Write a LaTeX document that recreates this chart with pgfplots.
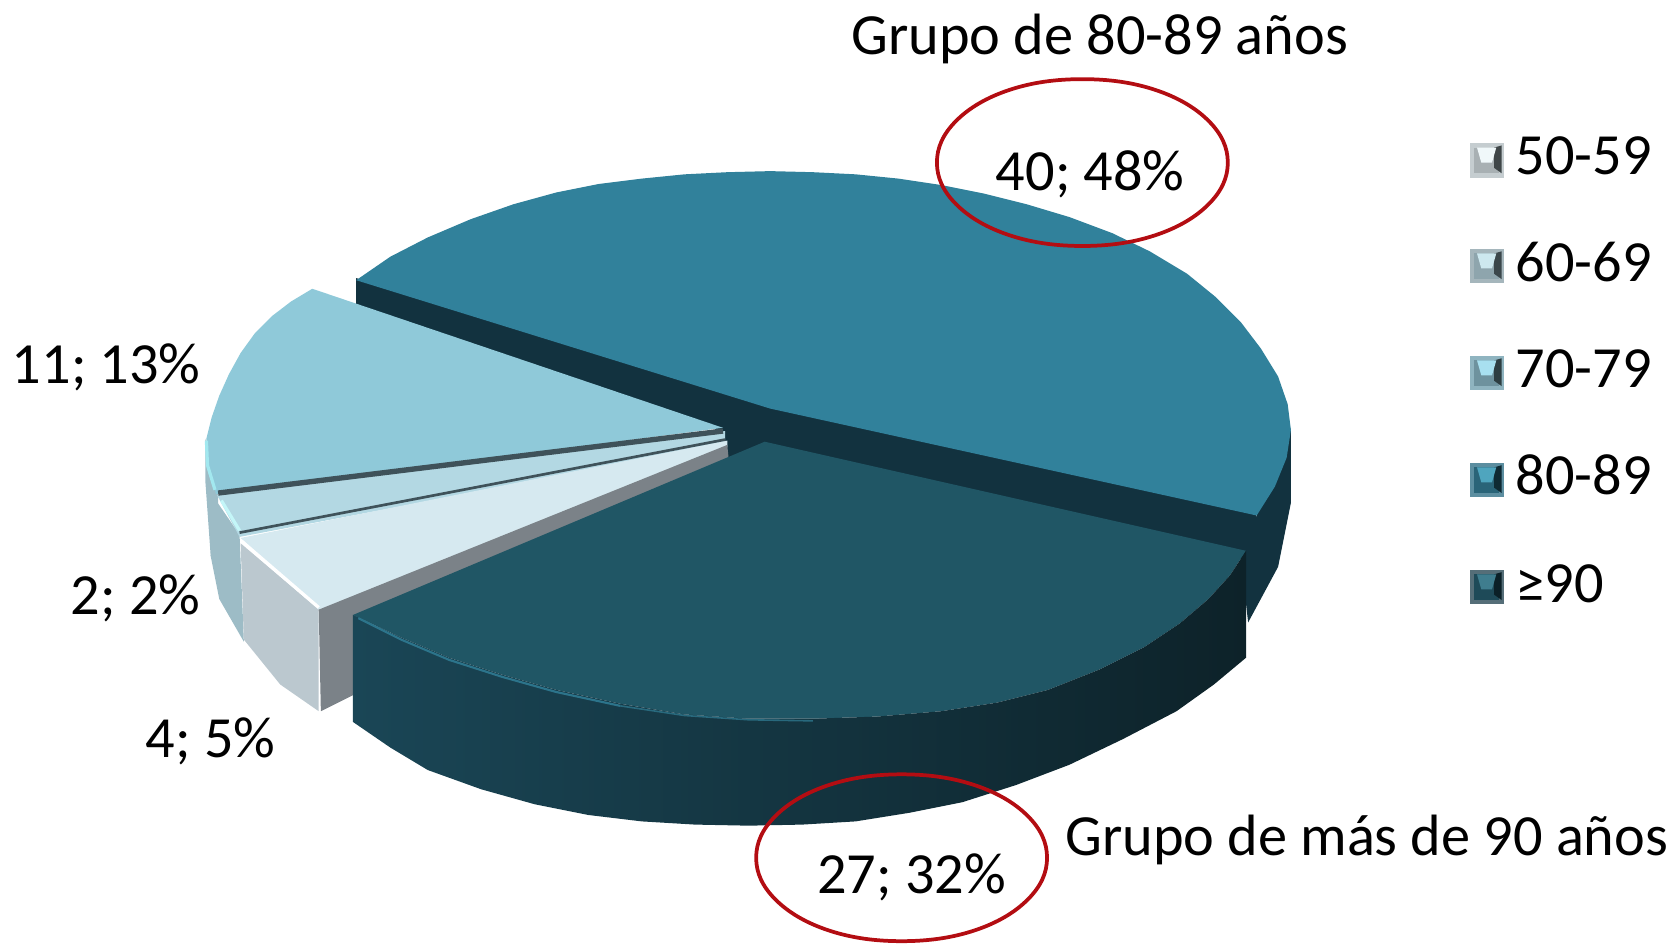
\documentclass[border=0pt]{standalone}
\usepackage{fontspec}
\setmainfont{Carlito}
\usepackage{pgfplots}
\pgfplotsset{compat=1.18}
\definecolor{cA}{HTML}{31819B}
\definecolor{cAd}{HTML}{12323F}
\definecolor{cB}{HTML}{205665}
\definecolor{cBl}{HTML}{1A4656}
\definecolor{cBr}{HTML}{0D2229}
\definecolor{cC}{HTML}{8FC9D9}
\definecolor{cD}{HTML}{B3D8E3}
\definecolor{cE}{HTML}{D6E9F0}
\definecolor{cG}{HTML}{7B8288}
\definecolor{cF}{HTML}{BBC8CF}
\definecolor{cS}{HTML}{9DBCC6}
\definecolor{cL}{HTML}{3F525A}
\definecolor{cR}{HTML}{B30D12}
\definecolor{s1a}{HTML}{C5CDD0}\definecolor{s1b}{HTML}{A8B0B3}\definecolor{s1c}{HTML}{3F4648}\definecolor{s1d}{HTML}{F0F8FA}
\definecolor{s2a}{HTML}{A5B6BC}\definecolor{s2b}{HTML}{8EA5AD}\definecolor{s2c}{HTML}{3B474B}\definecolor{s2d}{HTML}{CDE8EF}
\definecolor{s3a}{HTML}{8FB4C0}\definecolor{s3b}{HTML}{6E929E}\definecolor{s3c}{HTML}{2E3E42}\definecolor{s3d}{HTML}{A8E0F0}
\definecolor{s4a}{HTML}{5C8EA0}\definecolor{s4b}{HTML}{2A6478}\definecolor{s4c}{HTML}{0F2A33}\definecolor{s4d}{HTML}{4FA5BE}
\definecolor{s5a}{HTML}{556E78}\definecolor{s5b}{HTML}{1E4A58}\definecolor{s5c}{HTML}{0B2027}\definecolor{s5d}{HTML}{3F7D8E}
\begin{document}
\begin{tikzpicture}
\begin{axis}[
  scale only axis,width=1568pt,height=882pt,
  xmin=0,xmax=1568,ymin=0,ymax=882,y dir=reverse,
  axis lines=none,clip=false,
  every axis plot/.append style={line join=round},
]
\path (axis cs:0,0) -- (axis cs:1568,882);
% 80-89 outer wall
\addplot[draw=none,fill=cAd,forget plot] coordinates {(1207,400)(1207,470)(1195,530)(1167,582)(1160,520)(1175,482)(1207,400)};
% centre + 80-89 cut wall
\addplot[draw=none,fill=cAd,forget plot] coordinates {(333,260)(720,380)(1175,480)(1170,520)(715,420)(680,436)(668,400)(333,287)(333,260)};
% 80-89 top
\addplot[draw=none,fill=cA,forget plot] coordinates {(333,262)(365,240)(400,222)(440,205)(480,191)(520,180)(560,172)(600,167)(640,163)(680,161)(720,160)(760,161)(800,163)(840,167)(880,173)(920,181)(960,191)(1000,203)(1040,218)(1075,235)(1110,256)(1137,278)(1160,301)(1179,326)(1195,352)(1204,378)(1207,402)(1203,428)(1192,455)(1175,482)(720,382)(333,262)};
% 70-79 wall
\addplot[draw=none,fill=cS,forget plot] coordinates {(192,410)(204,460)(204,470)(197,520)(192,450)(192,410)};
% 60-69 wall
\addplot[draw=none,fill=cS,forget plot] coordinates {(200,465)(224,500)(228,600)(205,560)(197,520)(200,465)};
% 70-79 top
\addplot[draw=none,fill=cC,forget plot] coordinates {(292,270)(272,282)(255,295)(238,312)(225,330)(214,350)(205,370)(198,390)(193,410)(194,435)(202,462)(676,400)(292,270)};
\addplot[color=cC!70!cyan!60!white,line width=3pt,forget plot] coordinates {(193,412)(194,435)(201,458)};
% 60-69 top
\addplot[draw=none,fill=cD,forget plot] coordinates {(203,463)(678,403)(678,416)(224,502)(203,463)};
\addplot[color=cL,line width=5pt,forget plot] coordinates {(204,461)(676,403)};
\addplot[color=cD!60!cyan!40!white,line width=3pt,forget plot] coordinates {(207,468)(224,496)};
% 50-59 top
\addplot[draw=none,fill=cE,forget plot] coordinates {(225,503)(680,412)(680,418)(300,572)(225,503)};
\addplot[color=cL,line width=2.5pt,forget plot] coordinates {(224,498)(678,411)};
% 50-59 front
\addplot[draw=none,fill=cF,forget plot] coordinates {(225,508)(298,570)(298,665)(262,640)(228,598)(225,508)};
\addplot[color=white,line width=3pt,forget plot] coordinates {(226,506)(298,568)};
% grey cut wall
\addplot[draw=none,fill=cG,forget plot] coordinates {(298,570)(680,416)(682,436)(336,578)(330,650)(300,665)(298,570)};
% >=90 top
\addplot[draw=none,fill=cB,forget plot] coordinates {(715,413)(1165,515)(1150,538)(1130,560)(1103,583)(1070,605)(1028,626)(980,645)(932,657)(880,665)(820,670)(760,672)(700,672)(640,668)(580,658)(520,645)(470,631)(420,615)(375,596)(330,575)(715,413)};
% >=90 wall
\addplot[draw=none,left color=cBl,right color=cBr,forget plot] coordinates {(330,575)(375,596)(420,615)(470,631)(520,645)(580,658)(640,668)(700,672)(760,672)(820,670)(880,665)(932,657)(980,645)(1028,626)(1070,605)(1103,583)(1130,560)(1150,538)(1165,515)(1165,615)(1135,640)(1100,665)(1050,691)(1000,715)(950,734)(900,750)(850,760)(800,768)(750,771)(700,772)(650,771)(600,768)(550,762)(500,752)(450,738)(400,720)(365,699)(330,675)(330,575)};
% rim highlight
\addplot[color=cA!70!cB,line width=2pt,forget plot] coordinates {(335,578)(375,598)(420,617)(470,633)(520,647)(580,660)};
\addplot[color=cA!45!cB,line width=1.5pt,forget plot] coordinates {(580,660)(640,669)(700,673)(760,674)};
% red ellipses
\addplot[color=cR,line width=3.5pt,smooth cycle,tension=0.65,forget plot] coordinates {(1148,152)(1130,191)(1080,220)(1012,230)(944,220)(894,191)(876,152)(894,113)(944,84)(1012,74)(1080,84)(1130,113)};
\addplot[color=cR,line width=3.5pt,smooth cycle,tension=0.65,forget plot] coordinates {(979,802)(961,841)(911,870)(843,880)(775,870)(725,841)(707,802)(725,763)(775,734)(843,724)(911,734)(961,763)};
% legend swatches
\addplot[draw=none,fill=s1a,forget plot] coordinates {(1374,134)(1406,134)(1406,166)(1374,166)};
\addplot[draw=none,fill=s1b,forget plot] coordinates {(1378,138)(1402,138)(1402,162)(1378,162)};
\addplot[draw=none,fill=s1c,forget plot] coordinates {(1397,138)(1404,136)(1404,162)(1397,157)};
\addplot[draw=none,fill=s1d,forget plot] coordinates {(1381,138)(1399,138)(1395,152)(1385,152)};
\addplot[draw=none,fill=s2a,forget plot] coordinates {(1374,233)(1406,233)(1406,265)(1374,265)};
\addplot[draw=none,fill=s2b,forget plot] coordinates {(1378,237)(1402,237)(1402,261)(1378,261)};
\addplot[draw=none,fill=s2c,forget plot] coordinates {(1397,237)(1404,235)(1404,261)(1397,256)};
\addplot[draw=none,fill=s2d,forget plot] coordinates {(1381,237)(1399,237)(1395,251)(1385,251)};
\addplot[draw=none,fill=s3a,forget plot] coordinates {(1374,333)(1406,333)(1406,365)(1374,365)};
\addplot[draw=none,fill=s3b,forget plot] coordinates {(1378,337)(1402,337)(1402,361)(1378,361)};
\addplot[draw=none,fill=s3c,forget plot] coordinates {(1397,337)(1404,335)(1404,361)(1397,356)};
\addplot[draw=none,fill=s3d,forget plot] coordinates {(1381,337)(1399,337)(1395,351)(1385,351)};
\addplot[draw=none,fill=s4a,forget plot] coordinates {(1374,433)(1406,433)(1406,465)(1374,465)};
\addplot[draw=none,fill=s4b,forget plot] coordinates {(1378,437)(1402,437)(1402,461)(1378,461)};
\addplot[draw=none,fill=s4c,forget plot] coordinates {(1397,437)(1404,435)(1404,461)(1397,456)};
\addplot[draw=none,fill=s4d,forget plot] coordinates {(1381,437)(1399,437)(1395,451)(1385,451)};
\addplot[draw=none,fill=s5a,forget plot] coordinates {(1374,533)(1406,533)(1406,565)(1374,565)};
\addplot[draw=none,fill=s5b,forget plot] coordinates {(1378,537)(1402,537)(1402,561)(1378,561)};
\addplot[draw=none,fill=s5c,forget plot] coordinates {(1397,537)(1404,535)(1404,561)(1397,556)};
\addplot[draw=none,fill=s5d,forget plot] coordinates {(1381,537)(1399,537)(1395,551)(1385,551)};
% texts
\def\T#1#2#3{\node[anchor=base west,inner sep=0pt,font=\fontsize{54.5}{54.5}\selectfont] at (axis cs:#1,#2) {#3};}
\T{796}{51}{Grupo de 80-89 años}
\T{996}{800}{Grupo de más de 90 años}
\T{931}{178}{40; 48\%}
\T{11}{359}{11; 13\%}
\T{66}{575}{2; 2\%}
\T{136}{708}{4; 5\%}
\T{764}{835}{27; 32\%}
\T{1417}{163}{50-59}
\T{1417}{263}{60-69}
\T{1417}{362}{70-79}
\T{1417}{462}{80-89}
\T{1417}{563}{≥90}
\end{axis}
\end{tikzpicture}
\end{document}
